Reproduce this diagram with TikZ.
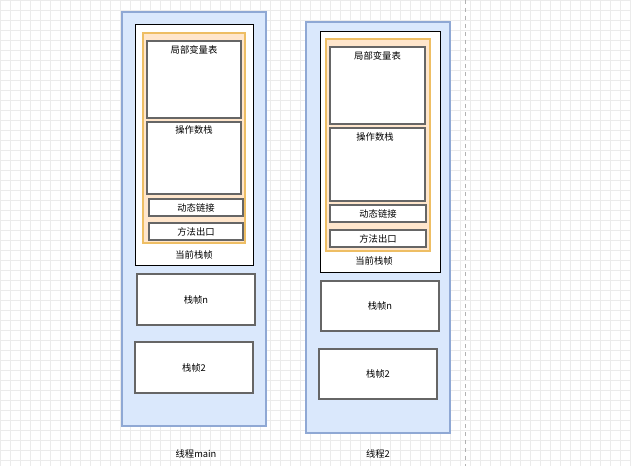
\documentclass[tikz,border=0pt]{standalone}
\usepackage{fontspec}
\setmainfont{Noto Sans CJK SC}
\definecolor{thfill}{HTML}{DAE8FC}
\definecolor{thdraw}{HTML}{8FA8D4}
\definecolor{orfill}{HTML}{FFE6CC}
\definecolor{ordraw}{HTML}{EEBE64}
\definecolor{bxdraw}{HTML}{666666}
\definecolor{gridc}{HTML}{EBEBEB}
\begin{document}
\begin{tikzpicture}[x=0.75pt,y=-0.75pt,
  thread/.style={draw=thdraw, fill=thfill, line width=0.8pt},
  frame/.style={draw=black, fill=white, line width=0.7pt},
  orange/.style={draw=ordraw, fill=orfill, line width=1.2pt},
  box/.style={draw=bxdraw, fill=white, line width=1.1pt},
  lbl/.style={font=\fontsize{7}{8}\selectfont, inner sep=0pt}]
\useasboundingbox (0,0) rectangle (631,466);
\fill[white] (0,0) rectangle (631,466);
\foreach \i in {0,10,...,630} \draw[gridc, line width=0.4pt] (\i,0) -- (\i,466);
\foreach \j in {0,10,...,460} \draw[gridc, line width=0.4pt] (0,\j) -- (631,\j);
\draw[black!30, dashed, line width=0.6pt] (465,0) -- (465,466);
% left thread
\node[thread, minimum width=108pt, minimum height=310.5pt, inner sep=0pt] (tA) at (194,219) {};
\node[frame, minimum width=88.5pt, minimum height=180.75pt, inner sep=0pt] (fA) at (194,144.5) {};
\node[orange, minimum width=76.5pt, minimum height=157.5pt, inner sep=0pt] (oA) at (194,138) {};
\node[box, minimum width=70.5pt, minimum height=57.75pt, inner sep=0pt] (lA) at (194,79.5) {};
\node[lbl] (lAt) at (194,50) {局部变量表};
\node[box, minimum width=70.5pt, minimum height=54pt, inner sep=0pt] (sA) at (194,158) {};
\node[lbl] (sAt) at (194,130) {操作数栈};
\node[box, minimum width=70.5pt, minimum height=12.75pt, lbl] (dA) at (196,207.5) {动态链接};
\node[box, minimum width=70.5pt, minimum height=12.75pt, lbl] (mA) at (196,231.5) {方法出口};
\node[lbl] (cA) at (194,255) {当前栈帧};
\node[box, minimum width=88.5pt, minimum height=38.25pt, lbl] (nA) at (196,299.5) {栈帧n};
\node[box, minimum width=88.5pt, minimum height=38.25pt, lbl] (tA2) at (194,367.5) {栈帧2};
\node[lbl] (mainl) at (196,454) {线程main};
% right thread
\node[thread, minimum width=108pt, minimum height=308.25pt, inner sep=0pt] (tB) at (378,227.5) {};
\node[frame, minimum width=90pt, minimum height=180.75pt, inner sep=0pt] (fB) at (380,151.5) {};
\node[orange, minimum width=78pt, minimum height=159pt, inner sep=0pt] (oB) at (378,145) {};
\node[box, minimum width=71.25pt, minimum height=57.75pt, inner sep=0pt] (lB) at (377.5,85.5) {};
\node[lbl] (lBt) at (377.5,56) {局部变量表};
\node[box, minimum width=71.25pt, minimum height=54.75pt, inner sep=0pt] (sB) at (377.5,164.5) {};
\node[lbl] (sBt) at (375,137) {操作数栈};
\node[box, minimum width=72pt, minimum height=12.75pt, lbl] (dB) at (378,213.5) {动态链接};
\node[box, minimum width=72pt, minimum height=12.75pt, lbl] (mB) at (378,238.5) {方法出口};
\node[lbl] (cB) at (374,261) {当前栈帧};
\node[box, minimum width=88.5pt, minimum height=37.5pt, lbl] (nB) at (380,306) {栈帧n};
\node[box, minimum width=88.5pt, minimum height=37.5pt, lbl] (tB2) at (378,374) {栈帧2};
\node[lbl] (t2l) at (378,454) {线程2};
\end{tikzpicture}
\end{document}
